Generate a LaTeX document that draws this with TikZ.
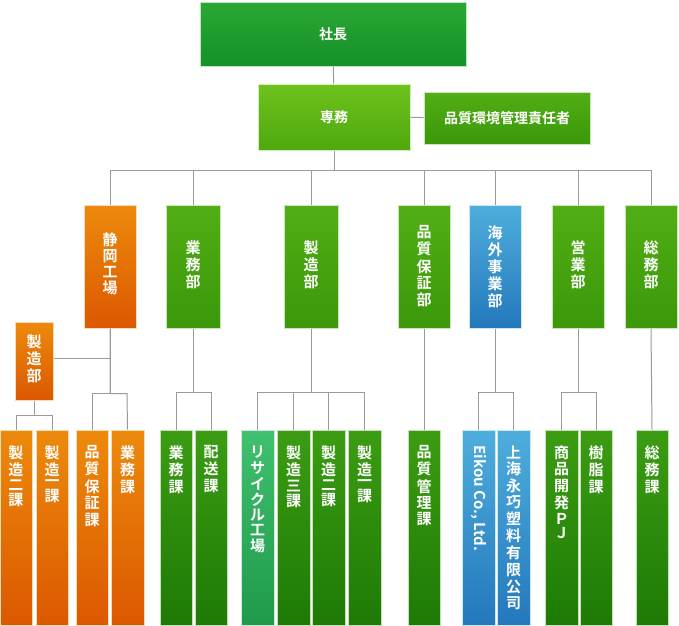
\documentclass[tikz,border=0pt]{standalone}
\usepackage{fontspec}
\newfontfamily\jpfont{Noto Sans CJK JP}[BoldFont={* Bold}]
\usetikzlibrary{calc}
\definecolor{topgreen}{HTML}{2AA832}
\definecolor{topgreenD}{HTML}{16902A}
\definecolor{subgreen}{HTML}{6EC21C}
\definecolor{subgreenD}{HTML}{4FA80E}
\definecolor{depgreen}{HTML}{52AE14}
\definecolor{depgreenD}{HTML}{3A980A}
\definecolor{secgreen}{HTML}{3C9C12}
\definecolor{secgreenD}{HTML}{1E7A06}
\definecolor{orgorange}{HTML}{EC8A0C}
\definecolor{orgorangeD}{HTML}{DC5800}
\definecolor{orgblue}{HTML}{4EAEDC}
\definecolor{orgblueD}{HTML}{2478BC}
\definecolor{recgreen}{HTML}{40C070}
\definecolor{recgreenD}{HTML}{1E9A4A}
\definecolor{linegray}{HTML}{9A9A9A}
\tikzset{
  unit/.style={draw=white!70!#1, line width=1pt, top color=#1, bottom color=#1D,
    text=white, font=\jpfont\bfseries\fontsize{14}{17}\selectfont, inner sep=0pt},
  unittext/.style={text=white, font=\jpfont\bfseries\fontsize{15}{17}\selectfont,
    anchor=north, align=center, inner sep=0pt},
  wire/.style={linegray, line width=1pt}
}
% box: name, x1, y1, x2, y2, colour, text offset, text
\newcommand{\orgunit}[8]{%
  \node[unit=#6, minimum width={(#4-#2)*1pt}, minimum height={(#5-#3)*1pt}]
    (#1) at ({(#2+#4)/2}, {(#3+#5)/2}) {};
  \node[unittext] (#1-t) at ($(#1.north)+(0,#7)$) {#8};
}
\begin{document}
\begin{tikzpicture}[x=1pt,y=-1pt]
\useasboundingbox (0,0) rectangle (679,625);

% Top
\node[unit=topgreen, minimum width=266pt, minimum height=64pt] (pres) at (333,34) {社長};
\node[unit=subgreen, minimum width=152pt, minimum height=66pt] (vice) at (334,117) {専務};
\node[unit=depgreen, minimum width=166pt, minimum height=52pt] (qmr) at (507,118) {品質環境管理責任者};

% Departments
\orgunit{shiz}{84}{205}{136}{328}{orgorange}{28}{\shortstack{静\\岡\\工\\場}}
\orgunit{gyo}{166}{205}{220}{328}{depgreen}{36}{\shortstack{業\\務\\部}}
\orgunit{sei}{284}{205}{338}{328}{depgreen}{36}{\shortstack{製\\造\\部}}
\orgunit{hin}{398}{205}{450}{328}{depgreen}{21}{\shortstack{品\\質\\保\\証\\部}}
\orgunit{kai}{469}{205}{521}{328}{orgblue}{21}{\shortstack{海\\外\\事\\業\\部}}
\orgunit{ei}{552}{205}{604}{328}{depgreen}{36}{\shortstack{営\\業\\部}}
\orgunit{so}{625}{205}{677}{328}{depgreen}{36}{\shortstack{総\\務\\部}}
\orgunit{sseizo}{15}{322}{53}{400}{orgorange}{13}{\shortstack{製\\造\\部}}

% Sections
\orgunit{s1}{0}{430}{32}{625}{orgorange}{16}{\shortstack{製\\造\\二\\課}}
\orgunit{s2}{36}{430}{68}{625}{orgorange}{16}{\shortstack{製\\造\\一\\課}}
\orgunit{s3}{76}{430}{108}{625}{orgorange}{16}{\shortstack{品\\質\\保\\証\\課}}
\orgunit{s4}{111}{430}{144}{625}{orgorange}{16}{\shortstack{業\\務\\課}}
\orgunit{s5}{160}{430}{192}{625}{secgreen}{16}{\shortstack{業\\務\\課}}
\orgunit{s6}{195}{430}{227}{625}{secgreen}{16}{\shortstack{配\\送\\課}}
\orgunit{s7}{241}{430}{274}{625}{recgreen}{16}{\shortstack{リ\\サ\\イ\\ク\\ル\\工\\場}}
\orgunit{s8}{277}{430}{310}{625}{secgreen}{16}{\shortstack{製\\造\\三\\課}}
\orgunit{s9}{312}{430}{345}{625}{secgreen}{16}{\shortstack{製\\造\\二\\課}}
\orgunit{s10}{348}{430}{381}{625}{secgreen}{16}{\shortstack{製\\造\\一\\課}}
\orgunit{s11}{408}{430}{440}{625}{secgreen}{16}{\shortstack{品\\質\\管\\理\\課}}
\orgunit{s12}{462}{430}{495}{625}{orgblue}{16}{}
\node[text=white, font=\jpfont\bfseries\fontsize{15}{17}\selectfont, rotate=-90,
  anchor=west, inner sep=0pt] (s12-r) at ($(s12.north)+(0,16)$) {Eikou Co., Ltd.};
\orgunit{s13}{497}{430}{530}{625}{orgblue}{16}{\shortstack{上\\海\\永\\巧\\塑\\料\\有\\限\\公\\司}}
\orgunit{s14}{545}{430}{578}{625}{secgreen}{16}{\shortstack{商\\品\\開\\発\\Ｐ\\Ｊ}}
\orgunit{s15}{580}{430}{612}{625}{secgreen}{16}{\shortstack{樹\\脂\\課}}
\orgunit{s16}{636}{430}{668}{625}{secgreen}{16}{\shortstack{総\\務\\課}}

% Connectors
\coordinate (bar) at (334,170);
\draw[wire] (pres) -- (vice);
\draw[wire] (vice) -- (qmr);
\draw[wire] (vice) -- (bar);
\foreach \d in {shiz,gyo,sei,hin,kai,ei,so}
  \draw[wire] (bar) -| (\d.north);
\draw[wire] (shiz.south) -- ++(0,30) coordinate (shizm) -- (sseizo.east |- shizm);
\draw[wire] (shiz.south) |- ++(-18,65) -- (s3.north);
\draw[wire] (shiz.south) |- ++(17,65) -- (s4.north);
\draw[wire] (sseizo.south) |- ++(-18,15) -- (s1.north);
\draw[wire] (sseizo.south) |- ++(18,15) -- (s2.north);
\foreach \s in {s5,s6}
  \draw[wire] (gyo.south) |- ($(\s.north)+(0,-37)$) -- (\s.north);
\foreach \s in {s7,s8,s9,s10}
  \draw[wire] (sei.south) |- ($(\s.north)+(0,-37)$) -- (\s.north);
\draw[wire] (hin.south) -- (s11.north);
\foreach \s in {s12,s13}
  \draw[wire] (kai.south) |- ($(\s.north)+(0,-37)$) -- (\s.north);
\foreach \s in {s14,s15}
  \draw[wire] (ei.south) |- ($(\s.north)+(0,-37)$) -- (\s.north);
\draw[wire] (so.south) -- (s16.north);
\end{tikzpicture}
\end{document}
